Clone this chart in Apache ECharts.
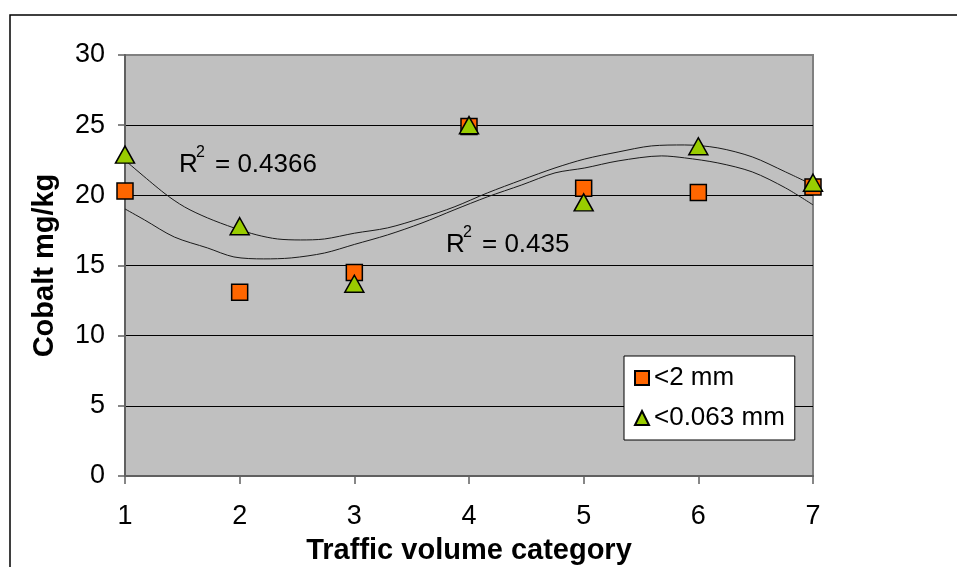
<!DOCTYPE html>
<html>
<head>
<meta charset="utf-8">
<script src="https://cdn.jsdelivr.net/npm/echarts@6/dist/echarts.min.js"></script>
<style>
  html, body { margin: 0; padding: 0; background: #fff; }
  #chart { width: 957px; height: 567px; }
</style>
</head>
<body>
<div id="chart"></div>
<script>
// traffic volume categories 1..7
const categories = [1, 2, 3, 4, 5, 6, 7];
// cobalt mg/kg, <2 mm fraction (squares)
const fine2mm = [20.3, 13.1, 14.5, 24.9, 20.5, 20.2, 20.6];
// cobalt mg/kg, <0.063 mm fraction (triangles)
const fine063mm = [22.9, 17.8, 13.7, 25.0, 19.5, 23.5, 20.9];

// polynomial trend lines
const trend2mmX = [1.0, 1.17, 1.43, 1.72, 1.95, 2.21, 2.45, 2.74, 3.0, 3.29, 3.59, 3.87, 4.16, 4.46, 4.75, 5.01, 5.30, 5.68, 5.88, 6.17, 6.47, 6.76, 7.0];
const trend2mmY = [19.03, 18.25, 17.03, 16.25, 15.61, 15.47, 15.54, 15.89, 16.5, 17.18, 18.03, 18.96, 19.89, 20.74, 21.6, 21.95, 22.45, 22.81, 22.67, 22.31, 21.67, 20.53, 19.32];
const trend063mmX = [1.0, 1.34, 1.52, 1.72, 1.95, 2.15, 2.33, 2.53, 2.74, 3.0, 3.29, 3.59, 3.87, 4.16, 4.46, 4.75, 5.01, 5.30, 5.59, 5.88, 6.17, 6.47, 6.76, 7.0];
const trend063mmY = [22.5, 20.17, 19.17, 18.39, 17.68, 17.18, 16.89, 16.82, 16.89, 17.3, 17.68, 18.39, 19.17, 20.17, 21.1, 21.95, 22.59, 23.09, 23.52, 23.59, 23.38, 22.74, 21.67, 20.74];

const yTicks = [0, 5, 10, 15, 20, 25, 30];

const font = "'Liberation Sans', Arial, sans-serif";

function pairs(xs, ys) {
  let out = [];
  for (let i = 0; i < xs.length; i++) {
    out.push([xs[i], ys[i]]);
  }
  return out;
}

const chart = echarts.init(document.getElementById('chart'));

let option = {
  animation: false,
  textStyle: { fontFamily: font },
  grid: {
    left: 125, right: 144, top: 55, bottom: 91,
    outerBoundsMode: 'none',
    show: true,
    backgroundColor: '#c0c0c0',
    borderColor: '#808080',
    borderWidth: 2
  },
  legend: {
    orient: 'vertical',
    left: 624,
    top: 356,
    backgroundColor: '#fff',
    borderColor: '#000',
    borderWidth: 1,
    padding: [9, 10],
    itemGap: 14,
    itemWidth: 14,
    itemHeight: 14,
    textStyle: { fontSize: 26, color: '#000', fontFamily: font },
    data: ['<2 mm', '<0.063 mm']
  },
  xAxis: {
    type: 'value',
    min: 1,
    max: 7,
    interval: 1,
    name: 'Traffic volume category',
    nameLocation: 'middle',
    nameGap: 60,
    nameTextStyle: { fontSize: 29, fontWeight: 'bold', color: '#000', fontFamily: font },
    axisLine: { lineStyle: { color: '#606060', width: 2 } },
    axisTick: { show: true, length: 8, lineStyle: { color: '#606060', width: 1.5 } },
    axisLabel: { fontSize: 27, color: '#000', margin: 27 },
    splitLine: { show: false }
  },
  yAxis: {
    type: 'value',
    min: yTicks[0],
    max: yTicks[yTicks.length - 1],
    interval: 5,
    name: 'Cobalt mg/kg',
    nameLocation: 'middle',
    nameGap: 66,
    nameTextStyle: { fontSize: 29, fontWeight: 'bold', color: '#000', fontFamily: font },
    axisLine: { show: true, lineStyle: { color: '#606060', width: 2 } },
    axisTick: { show: true, length: 7, lineStyle: { color: '#606060', width: 1.5 } },
    axisLabel: { fontSize: 27, color: '#000', margin: 20 },
    splitLine: { show: true, showMaxLine: false, lineStyle: { color: '#000', width: 1 } }
  },
  graphic: [
    {
      type: 'rect', z: -10, silent: true,
      shape: { x: 10, y: 15, width: 1000, height: 600 },
      style: { fill: 'none', stroke: '#000', lineWidth: 1.5 }
    },
    { type: 'text', left: 179, top: 152, z: 50, style: { text: 'R', fill: '#000', font: '26px ' + font } },
    { type: 'text', left: 196, top: 145, z: 50, style: { text: '2', fill: '#000', font: '16px ' + font } },
    { type: 'text', left: 215, top: 152, z: 50, style: { text: '= 0.4366', fill: '#000', font: '26px ' + font } },
    { type: 'text', left: 446, top: 232, z: 50, style: { text: 'R', fill: '#000', font: '26px ' + font } },
    { type: 'text', left: 463, top: 225, z: 50, style: { text: '2', fill: '#000', font: '16px ' + font } },
    { type: 'text', left: 482, top: 232, z: 50, style: { text: '= 0.435', fill: '#000', font: '26px ' + font } }
  ],
  series: [
    {
      name: 'trend <2 mm',
      type: 'line',
      smooth: 0.3,
      showSymbol: false,
      silent: true,
      data: pairs(trend2mmX, trend2mmY),
      lineStyle: { color: '#1a1a1a', width: 1 },
      z: 2
    },
    {
      name: 'trend <0.063 mm',
      type: 'line',
      smooth: 0.3,
      showSymbol: false,
      silent: true,
      data: pairs(trend063mmX, trend063mmY),
      lineStyle: { color: '#1a1a1a', width: 1 },
      z: 2
    },
    {
      name: '<2 mm',
      type: 'scatter',
      symbol: 'rect',
      symbolSize: 16,
      data: pairs(categories, fine2mm),
      itemStyle: { color: '#ff6600', borderColor: '#000', borderWidth: 1.5, opacity: 1 },
      z: 3
    },
    {
      name: '<0.063 mm',
      type: 'scatter',
      symbol: 'triangle',
      symbolSize: [19, 17],
      data: pairs(categories, fine063mm),
      itemStyle: { color: '#99cc00', borderColor: '#000', borderWidth: 1.5, opacity: 1 },
      z: 4
    }
  ]
};

chart.setOption(option);
</script>
</body>
</html>
